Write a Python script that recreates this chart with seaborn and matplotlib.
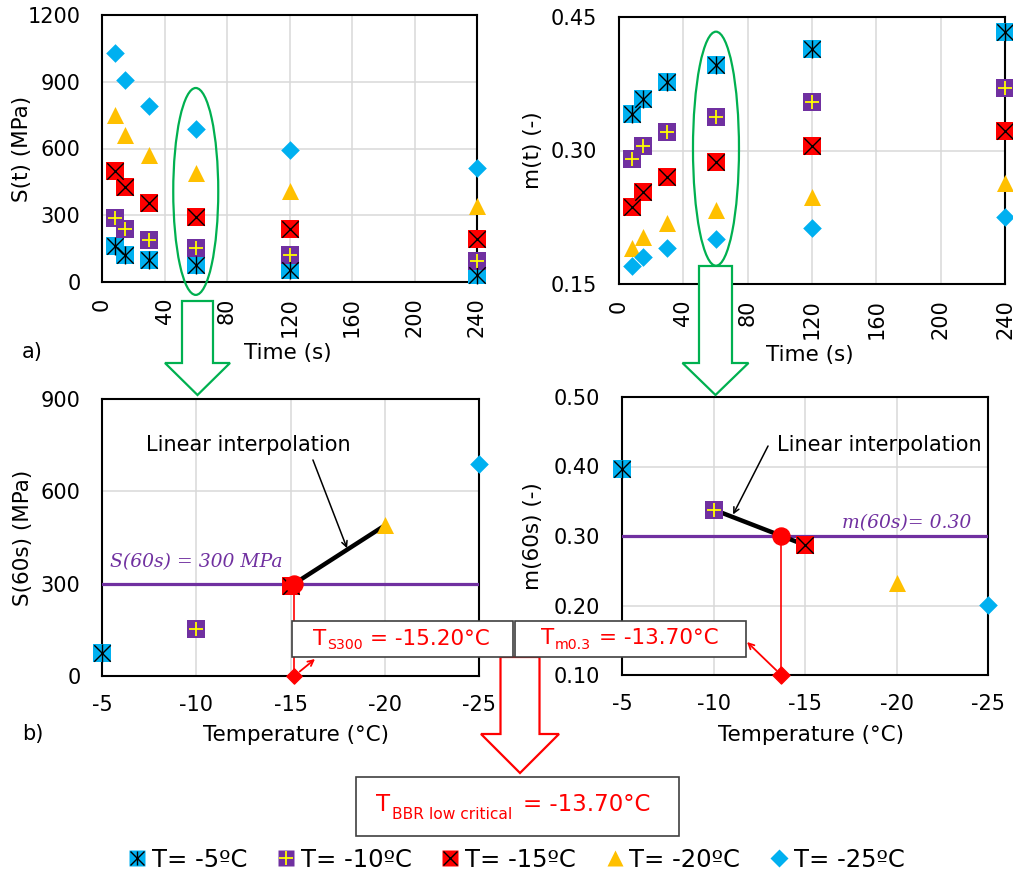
import numpy as np
import pandas as pd
import matplotlib
matplotlib.use('Agg')
import matplotlib.pyplot as plt
import seaborn as sns
from matplotlib.patches import Ellipse, Polygon, Rectangle
from matplotlib.lines import Line2D

# --- values ---
times = [8, 15, 30, 60, 120, 240]
temps = [-5, -10, -15, -20, -25]
legend_labels = ['T= -5ºC', 'T= -10ºC', 'T= -15ºC', 'T= -20ºC', 'T= -25ºC']

S_m5 = [160, 123, 97, 75, 53, 33]
S_m10 = [288, 236, 190, 153, 120, 94]
S_m15 = [497, 425, 355, 294, 239, 194]
S_m20 = [750, 661, 570, 489, 411, 343]
S_m25 = [1028, 909, 793, 688, 595, 512]

m_m5 = [0.341, 0.358, 0.377, 0.396, 0.414, 0.433]
m_m10 = [0.290, 0.305, 0.321, 0.338, 0.354, 0.370]
m_m15 = [0.237, 0.253, 0.270, 0.287, 0.305, 0.322]
m_m20 = [0.191, 0.203, 0.218, 0.233, 0.248, 0.263]
m_m25 = [0.170, 0.180, 0.190, 0.201, 0.213, 0.225]

S_target = 300
m_target = 0.30
T_S300 = -15.20
T_m03 = -13.70
T_critical = -13.70

# --- colours / marker looks (Excel style) ---
CYAN, PURPLE, RED, ORANGE, YELLOW = '#00B0F0', '#7030A0', '#FF0000', '#FFC000', '#FFFF00'
GREEN, GRID = '#00B050', '#D9D9D9'

styles = {
    -5: dict(marker='s', color=CYAN, s=150, inner=[('x', 'black', 140, 1.0), ('|', 'black', 150, 1.0)]),
    -10: dict(marker='s', color=PURPLE, s=150, inner=[('+', YELLOW, 110, 1.3)]),
    -15: dict(marker='s', color=RED, s=150, inner=[('x', 'black', 140, 1.0)]),
    -20: dict(marker='^', color=ORANGE, s=150, inner=[]),
    -25: dict(marker='D', color=CYAN, s=90, inner=[]),
}

rows = []
for T, S_vals, m_vals in zip(temps, [S_m5, S_m10, S_m15, S_m20, S_m25],
                             [m_m5, m_m10, m_m15, m_m20, m_m25]):
    for t, s_val, m_val in zip(times, S_vals, m_vals):
        rows.append({'time': t, 'temp': T, 'S': s_val, 'm': m_val})
df = pd.DataFrame(rows)
df60 = df[df['time'] == 60]

sns.set_style('white')
plt.rcParams['font.family'] = ['DejaVu Sans']
plt.rcParams['axes.unicode_minus'] = False
for key in ['text.color', 'axes.labelcolor', 'xtick.color', 'ytick.color']:
    plt.rcParams[key] = 'black'

W, H = 1013, 881


def px_rect(x0, y0, x1, y1):
    return [x0 / W, 1 - y1 / H, (x1 - x0) / W, (y1 - y0) / H]


def draw_points(ax, data, x, y):
    for T in temps:
        st = styles[T]
        sub = data[data['temp'] == T]
        sns.scatterplot(data=sub, x=x, y=y, marker=st['marker'], color=st['color'], s=st['s'],
                        linewidth=0, ax=ax, legend=False, clip_on=False, zorder=4)
        for mk, c, sz, lw in st['inner']:
            sns.scatterplot(data=sub, x=x, y=y, marker=mk, color=c, s=sz, linewidth=lw,
                            ax=ax, legend=False, clip_on=False, zorder=5)


def style_axes(ax, xlim, xticks, ylim, yticks, yfmt, xlabel, ylabel, xrot, xpad, xl_pos, yl_pos):
    ax.set_xlim(*xlim)
    ax.set_ylim(*ylim)
    ax.set_xticks(xticks)
    ax.set_yticks(yticks)
    ax.set_xticklabels([str(v) for v in xticks], rotation=xrot)
    ax.set_yticklabels([yfmt.format(v) for v in yticks])
    ax.grid(True, color=GRID, lw=1.1)
    ax.set_axisbelow(True)
    for sp in ax.spines.values():
        sp.set_visible(True)
        sp.set_color('black')
        sp.set_linewidth(1.5)
    ax.tick_params(axis='both', length=0, labelsize=15, colors='black')
    ax.tick_params(axis='y', pad=15.5)
    ax.tick_params(axis='x', pad=xpad)
    ax.set_xlabel(xlabel, fontsize=15.5, color='black')
    ax.set_ylabel(ylabel, fontsize=15.5, color='black')
    ax.xaxis.set_label_coords(*xl_pos)
    ax.yaxis.set_label_coords(*yl_pos)


fig = plt.figure(figsize=(W / 100, H / 100), dpi=100)
ax_s = fig.add_axes(px_rect(102, 15, 477, 282))
ax_m = fig.add_axes(px_rect(619, 17, 1005, 284))
ax_s60 = fig.add_axes(px_rect(102, 399, 479, 676))
ax_m60 = fig.add_axes(px_rect(622, 397, 988, 675))

# --- a) S(t) and m(t) versus time ---
draw_points(ax_s, df, 'time', 'S')
draw_points(ax_m, df, 'time', 'm')
style_axes(ax_s, (0, 240), list(range(0, 241, 40)), (0, 1200), [0, 300, 600, 900, 1200], '{:.0f}',
           'Time (s)', 'S(t) (MPa)', 90, 11, (0.495, -0.228), (-0.187, 0.5))
style_axes(ax_m, (0, 240), list(range(0, 241, 40)), (0.15, 0.45), [0.15, 0.30, 0.45], '{:.2f}',
           'Time (s)', 'm(t) (-)', 90, 11, (0.494, -0.228), (-0.197, 0.5))

ax_s.add_patch(Ellipse((60, 407), 28.8, 930, fill=False, ec=GREEN, lw=1.6, clip_on=False, zorder=6))
ax_m.add_patch(Ellipse((60.3, 0.302), 28.6, 0.263, fill=False, ec=GREEN, lw=1.6, clip_on=False, zorder=6))

# --- b) values at 60 s versus temperature ---
draw_points(ax_s60, df60, 'temp', 'S')
draw_points(ax_m60, df60, 'temp', 'm')
style_axes(ax_s60, (-5, -25), temps, (0, 900), [0, 300, 600, 900], '{:.0f}',
           'Temperature (°C)', 'S(60s) (MPa)', 0, 14, (0.515, -0.177), (-0.183, 0.5))
style_axes(ax_m60, (-5, -25), temps, (0.10, 0.50), [0.10, 0.20, 0.30, 0.40, 0.50], '{:.2f}',
           'Temperature (°C)', 'm(60s) (-)', 0, 14, (0.517, -0.18), (-0.216, 0.5))

S60 = dict(zip(df60['temp'], df60['S']))
m60 = dict(zip(df60['temp'], df60['m']))

# S(60s) panel: target line, interpolation, resulting temperature
ax_s60.axhline(S_target, color=PURPLE, lw=2.3, zorder=3)
ax_s60.plot([T_S300, -20], [S_target, S60[-20]], color='black', lw=3.2, zorder=3.5,
            solid_capstyle='butt')
ax_s60.plot([T_S300, T_S300], [S_target, 0], color=RED, lw=1.2, zorder=3.5)
ax_s60.scatter([T_S300], [S_target], s=150, color=RED, zorder=6, clip_on=False)
ax_s60.scatter([T_S300], [0], s=60, marker='D', color=RED, zorder=6, clip_on=False)
ax_s60.text(-5.45, 370, 'S(60s) = 300 MPa', family='DejaVu Serif', style='italic',
            color=PURPLE, fontsize=13.5, va='center')
ax_s60.text(-7.33, 750, 'Linear interpolation', fontsize=15, va='center')
ax_s60.annotate('', xy=(-18.0, 415), xytext=(-16.19, 702),
                arrowprops=dict(arrowstyle='->', color='black', lw=1.1, shrinkA=0, shrinkB=0))
ax_s60.annotate('', xy=(315, H - 659), xycoords='figure pixels', xytext=(T_S300, 0), textcoords='data',
                arrowprops=dict(arrowstyle='->', color=RED, lw=1.3, shrinkA=5, shrinkB=0),
                annotation_clip=False)

# m(60s) panel
ax_m60.axhline(m_target, color=PURPLE, lw=2.3, zorder=3)
ax_m60.plot([-10, -15], [m60[-10], m60[-15]], color='black', lw=3.2, zorder=3.5,
            solid_capstyle='butt')
ax_m60.plot([T_m03, T_m03], [m_target, 0.10], color=RED, lw=1.2, zorder=3.5)
ax_m60.scatter([T_m03], [m_target], s=150, color=RED, zorder=6, clip_on=False)
ax_m60.scatter([T_m03], [0.10], s=75, marker='D', color=RED, zorder=6, clip_on=False)
ax_m60.text(-17.0, 0.319, 'm(60s)= 0.30', family='DejaVu Serif', style='italic',
            color=PURPLE, fontsize=13.5, va='center')
ax_m60.text(-13.47, 0.431, 'Linear interpolation', fontsize=15, va='center')
ax_m60.annotate('', xy=(-11.07, 0.331), xytext=(-12.98, 0.4295),
                arrowprops=dict(arrowstyle='->', color='black', lw=1.1, shrinkA=0, shrinkB=0))
ax_m60.annotate('', xy=(747, H - 642), xycoords='figure pixels', xytext=(T_m03, 0.10), textcoords='data',
                arrowprops=dict(arrowstyle='->', color=RED, lw=1.3, shrinkA=5, shrinkB=0),
                annotation_clip=False)

# --- overlay in pixel coordinates for arrows, boxes and panel tags ---
ov = fig.add_axes([0, 0, 1, 1], zorder=10)
ov.set_xlim(0, W)
ov.set_ylim(H, 0)
ov.axis('off')
ov.patch.set_alpha(0)


def block_arrow(cx, top, half_stem, head_y, half_head, tip_y, color):
    pts = [(cx - half_stem, top), (cx + half_stem, top), (cx + half_stem, head_y),
           (cx + half_head, head_y), (cx, tip_y), (cx - half_head, head_y), (cx - half_stem, head_y)]
    ov.add_patch(Polygon(pts, closed=True, fc='white', ec=color, lw=1.6))


block_arrow(197.5, 301, 15.5, 363, 32.5, 395, GREEN)
block_arrow(715.5, 266, 16.5, 363, 33, 395, GREEN)
block_arrow(520, 657, 19.5, 734, 39, 773, RED)

for x0, y0, x1, y1 in [(292, 621, 513, 657), (515, 621, 746, 657), (356, 777, 679, 836)]:
    ov.add_patch(Rectangle((x0, y0), x1 - x0, y1 - y0, fc='white', ec='#404040', lw=1.2))

ov.text(313, 645, 'T', color=RED, fontsize=15.5, va='baseline')
ov.text(327, 649, 'S300', color=RED, fontsize=10.2, va='baseline')
ov.text(370, 645, f'= {T_S300:.2f}°C', color=RED, fontsize=15.5, va='baseline')

ov.text(541, 644, 'T', color=RED, fontsize=15.5, va='baseline')
ov.text(555, 649, 'm0.3', color=RED, fontsize=10.2, va='baseline')
ov.text(599, 644, f'= {T_m03:.2f}°C', color=RED, fontsize=15.5, va='baseline')

ov.text(376, 811, 'T', color=RED, fontsize=16.5, va='baseline')
ov.text(392, 819, 'BBR low critical', color=RED, fontsize=11.2, va='baseline')
ov.text(523, 811, f'= {T_critical:.2f}°C', color=RED, fontsize=16.5, va='baseline')

ov.text(22, 352, 'a)', fontsize=15, va='center')
ov.text(22, 734, 'b)', fontsize=15, va='center')

# --- legend with composite Excel-like markers ---
handles = []
for T in temps:
    st = styles[T]
    msize = 9.5 if st['marker'] == 'D' else 11
    parts = [Line2D([], [], ls='none', marker=st['marker'], markersize=msize,
                    markerfacecolor=st['color'], markeredgecolor='none')]
    for mk, c, sz, lw in st['inner']:
        parts.append(Line2D([], [], ls='none', marker=mk, markersize=10, color=c, markeredgewidth=lw))
    handles.append(tuple(parts))

fig.legend(handles, legend_labels, loc='center', bbox_to_anchor=(516 / W, 1 - 860 / H), ncol=5,
           frameon=False, fontsize=17.5, handlelength=0.8, handletextpad=0.2, columnspacing=1.2)

fig.savefig('out.png', dpi=100)
